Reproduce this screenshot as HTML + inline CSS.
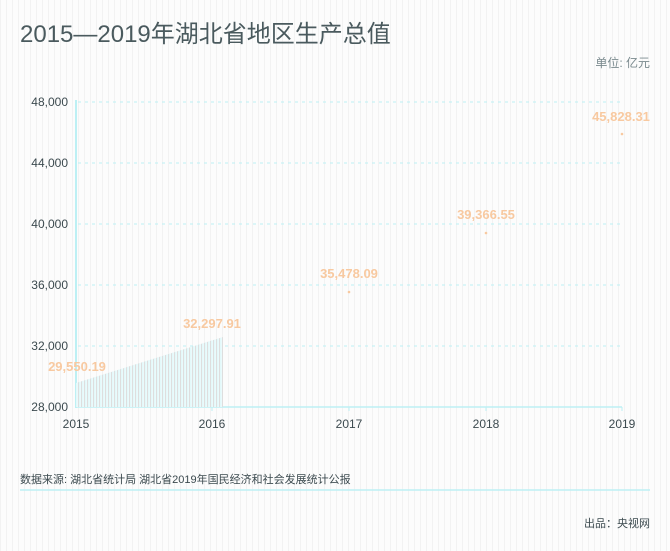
<!DOCTYPE html><html><head><meta charset="utf-8"><style>body{margin:0;width:670px;height:551px;background:#fbfbfb;font-family:"Liberation Sans","Noto Sans CJK SC",sans-serif;overflow:hidden}</style></head><body>
<svg width="670" height="551" xmlns="http://www.w3.org/2000/svg" style="position:absolute;left:0;top:0">
<defs><pattern id="bg" width="6" height="10" patternUnits="userSpaceOnUse"><rect width="6" height="10" fill="#fcfcfc"/><rect width="1" height="10" fill="#f2f2f2"/></pattern>
<pattern id="st" width="3" height="10" patternUnits="userSpaceOnUse"><rect width="3" height="10" fill="#f4fcfd"/><rect width="1" height="10" fill="#dedede"/><rect x="1.5" width="0.8" height="10" fill="#d2f6f8"/></pattern></defs>
<rect width="670" height="551" fill="url(#bg)"/>
<text x="20" y="42" font-size="24" fill="#4a5a5e">2015—2019年湖北省地区生产总值</text>
<text x="650" y="67" font-size="12" fill="#7a8a8e" text-anchor="end">单位: 亿元</text>
<g stroke="#bdf0f4" stroke-dasharray="3,4" stroke-width="1">
<line x1="78" y1="102" x2="620" y2="102"/><line x1="78" y1="163" x2="620" y2="163"/><line x1="78" y1="224" x2="620" y2="224"/><line x1="78" y1="285" x2="620" y2="285"/><line x1="78" y1="346" x2="620" y2="346"/></g>
<line x1="76" y1="100" x2="76" y2="408" stroke="#bdf0f4" stroke-width="2"/>
<line x1="76" y1="407" x2="622" y2="407" stroke="#bdf0f4" stroke-width="1.5"/>
<g stroke="#bdf0f4"><line x1="212" y1="407" x2="212" y2="411"/><line x1="349" y1="407" x2="349" y2="411"/><line x1="486" y1="407" x2="486" y2="411"/><line x1="622" y1="407" x2="622" y2="411"/></g>
<polygon points="76,383 223,337 223,407 76,407" fill="url(#st)"/>
<g font-size="12" fill="#3c4a4f" text-anchor="end"><text x="68" y="106">48,000</text><text x="68" y="167">44,000</text><text x="68" y="228">40,000</text><text x="68" y="289">36,000</text><text x="68" y="350">32,000</text><text x="68" y="411">28,000</text></g>
<g font-size="12" fill="#3c4a4f" text-anchor="middle"><text x="76" y="428">2015</text><text x="212" y="428">2016</text><text x="349" y="428">2017</text><text x="486" y="428">2018</text><text x="622" y="428">2019</text></g>
<g font-size="13" font-weight="bold" fill="#f8c9a0" text-anchor="middle"><text x="77" y="371">29,550.19</text><text x="212" y="328">32,297.91</text><text x="349" y="278">35,478.09</text><text x="486" y="219">39,366.55</text><text x="621" y="121">45,828.31</text></g>
<g fill="#f8c9a0"><circle cx="349" cy="292" r="1.3"/><circle cx="486" cy="233" r="1.3"/><circle cx="622" cy="134" r="1.3"/></g>
<text x="20" y="483" font-size="11" fill="#3c4a4f">数据来源: 湖北省统计局 湖北省2019年国民经济和社会发展统计公报</text>
<line x1="20" y1="490" x2="650" y2="490" stroke="#bdf0f4" stroke-width="1.5"/>
<text x="650" y="527" font-size="11" fill="#3c4a4f" text-anchor="end">出品：央视网</text>
</svg></body></html>
